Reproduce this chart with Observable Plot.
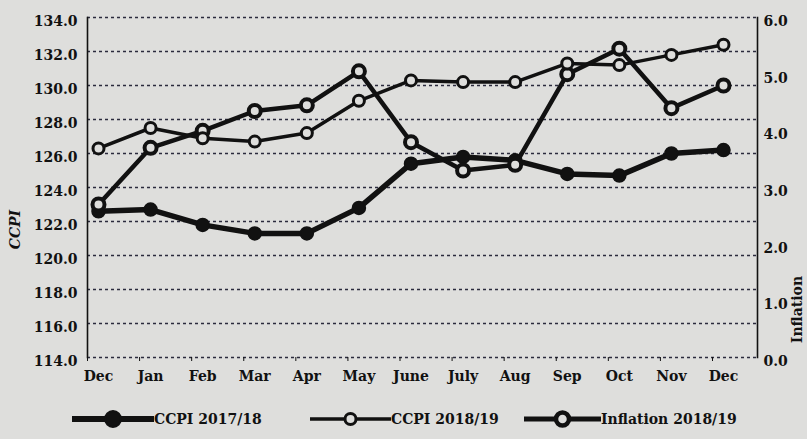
<!DOCTYPE html>
<html>
<head>
<meta charset="utf-8">
<script src="https://cdn.jsdelivr.net/npm/d3@7"></script>
<script src="https://cdn.jsdelivr.net/npm/@observablehq/plot@0.6"></script>
<style>
  html, body { margin: 0; padding: 0; background: #dededc; }
  #wrap { width: 807px; height: 439px; position: relative; overflow: hidden; background: #dededc; }
  #legend { position: relative; height: 39px; width: 807px; font-family: "DejaVu Serif", serif; font-size: 14px; font-weight: bold; color: #111; }
  .item { position: absolute; top: 8px; display: flex; align-items: center; white-space: nowrap; }
  .item svg { display: block; }
</style>
</head>
<body>
<div id="wrap">
  <div id="chart"></div>
  <div id="legend"></div>
</div>
<script>
const months = ["Dec", "Jan", "Feb", "Mar", "Apr", "May", "June", "July", "Aug", "Sep", "Oct", "Nov", "Dec"];
const ccpi1718 = [122.6, 122.7, 121.8, 121.3, 121.3, 122.8, 125.4, 125.8, 125.6, 124.8, 124.7, 126.0, 126.2];
const ccpi1819 = [126.3, 127.5, 126.9, 126.7, 127.2, 129.1, 130.3, 130.2, 130.2, 131.3, 131.2, 131.8, 132.4];
const inflation1819 = [2.7, 3.7, 4.0, 4.35, 4.45, 5.05, 3.8, 3.3, 3.4, 5.0, 5.45, 4.4, 4.8];
const leftTicks = [114, 116, 118, 120, 122, 124, 126, 128, 130, 132, 134];
const rightTicks = [0, 1, 2, 3, 4, 5, 6];
const seriesNames = ["CCPI 2017/18", "CCPI 2018/19", "Inflation 2018/19"];

// right axis (inflation 0..6) shares the pixel span of the left axis (114..134)
const toLeft = v => 114 + v * 20 / 6;
const toRight = c => (c - 114) * 6 / 20;

const idx = months.map((_, i) => i);
const d1718 = idx.map(i => ({i, v: ccpi1718[i]}));
const d1819 = idx.map(i => ({i, v: ccpi1819[i]}));
const dInf = idx.map(i => ({i, v: toLeft(inflation1819[i])}));

const ink = "#111";
const grid = "#2b2b3d";
const paper = "#dededc";

const chart = Plot.plot({
  width: 807,
  height: 400,
  marginTop: 17,
  marginBottom: 43,
  marginLeft: 87,
  marginRight: 50,
  style: {background: "transparent", fontFamily: "DejaVu Serif, serif", fontSize: "14px", fontWeight: "bold", color: ink},
  x: {type: "linear", domain: [0, 12], range: [98, 723]},
  y: {domain: [114, 134]},
  marks: [
    Plot.ruleY(leftTicks, {stroke: grid, strokeWidth: 1.3, strokeDasharray: "3,3"}),
    Plot.frame({anchor: "left", stroke: ink, strokeWidth: 1.6}),
    Plot.frame({anchor: "right", stroke: ink, strokeWidth: 1.6}),
    Plot.axisY({ticks: leftTicks, tickFormat: d => d.toFixed(1), tickSize: 0, tickPadding: 10, dy: 4, label: null}),
    Plot.axisY({anchor: "right", ticks: rightTicks.map(toLeft), tickFormat: d => toRight(d).toFixed(1), tickSize: 0, tickPadding: 6, dy: 4, label: null}),
    Plot.axisX({ticks: idx, tickSize: 4, dx: -11, tickFormat: () => "", stroke: ink, label: null}),
    Plot.axisX({ticks: idx, tickFormat: i => months[i], tickSize: 0, tickPadding: 14, label: null}),
    Plot.text(["CCPI"], {frameAnchor: "left", textAnchor: "middle", dx: -72, dy: 42, rotate: -90, fontStyle: "italic", fontWeight: "bold", fontSize: 14}),
    Plot.text(["Inflation"], {frameAnchor: "right", textAnchor: "middle", dx: 40, dy: 122, rotate: -90, fontWeight: "bold", fontSize: 14}),
    // CCPI 2017/18
    Plot.line(d1718, {x: "i", y: "v", stroke: ink, strokeWidth: 5.5}),
    Plot.dot(d1718, {x: "i", y: "v", r: 6.5, fill: ink, stroke: ink, strokeWidth: 1.5}),
    // Inflation 2018/19
    Plot.line(dInf, {x: "i", y: "v", stroke: ink, strokeWidth: 4.5}),
    Plot.dot(dInf, {x: "i", y: "v", r: 6, fill: paper, stroke: ink, strokeWidth: 4}),
    // CCPI 2018/19
    Plot.line(d1819, {x: "i", y: "v", stroke: ink, strokeWidth: 3.5}),
    Plot.dot(d1819, {x: "i", y: "v", r: 5.5, fill: paper, stroke: ink, strokeWidth: 3})
  ]
});
document.getElementById("chart").appendChild(chart);

// legend
const legend = document.getElementById("legend");
const styles = [
  {left: 72, w: 82, lw: 6, r: 8, fill: ink, sw: 2},
  {left: 310, w: 81, lw: 3.5, r: 5.5, fill: paper, sw: 3},
  {left: 524, w: 77, lw: 5, r: 6.5, fill: paper, sw: 4.5}
];
seriesNames.forEach((name, k) => {
  const s = styles[k];
  const item = document.createElement("div");
  item.className = "item";
  item.style.left = s.left + "px";
  const ns = "http://www.w3.org/2000/svg";
  const svg = document.createElementNS(ns, "svg");
  svg.setAttribute("width", s.w);
  svg.setAttribute("height", 22);
  const line = document.createElementNS(ns, "line");
  line.setAttribute("x1", 0); line.setAttribute("x2", s.w);
  line.setAttribute("y1", 11); line.setAttribute("y2", 11);
  line.setAttribute("stroke", ink); line.setAttribute("stroke-width", s.lw);
  svg.appendChild(line);
  const c = document.createElementNS(ns, "circle");
  c.setAttribute("cx", s.w / 2); c.setAttribute("cy", 11); c.setAttribute("r", s.r);
  c.setAttribute("fill", s.fill); c.setAttribute("stroke", ink); c.setAttribute("stroke-width", s.sw);
  svg.appendChild(c);
  item.appendChild(svg);
  const t = document.createElement("span");
  t.textContent = name;
  item.appendChild(t);
  legend.appendChild(item);
});
</script>
</body>
</html>
